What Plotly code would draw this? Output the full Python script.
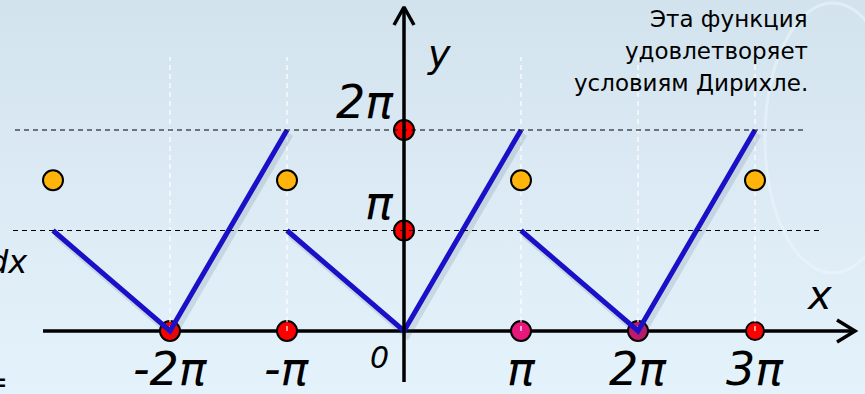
import plotly.graph_objects as go

# ---------------- data (x and y in units of pi) ----------------
seg_x = [[-3, -2, -1], [-1, 0, 1], [1, 2, 3]]
seg_y = [[1, 0, 2], [1, 0, 2], [1, 0, 2]]
mid_x = [-3, -1, 1, 3]
mid_y = [1.5, 1.5, 1.5, 1.5]
xdot_x = [-2, -1, 1, 2, 3]
xdot_c = ["#ff0000", "#ff0000", "#e8177b", "#c8186e", "#ff0000"]
ydot_y = [1, 2]
vline_x = [-2, -1, 1, 2, 3]
hline_y = [1, 2]
xtick_vals = [-2, -1, 1, 2, 3]
xtick_text = ["-2π", "-π", "π", "2π", "3π"]
ytick_vals = [1, 2]
ytick_text = ["π", "2π"]
note_lines = ["Эта функция", "удовлетворяет", "условиям Дирихле."]

# ---------------- geometry ----------------
W, H = 865, 394
PX_X, PX_Y = 117.0, 100.5      # pixels per pi
X0, Y0 = 404, 331              # pixel position of origin
x_lo, x_hi = -X0 / PX_X, (W - X0) / PX_X
y_lo, y_hi = -(H - Y0) / PX_Y, Y0 / PX_Y
def dx(p): return p / PX_X
def dy(p): return p / PX_Y

fig = go.Figure()

# background gradient
fig.add_trace(go.Scatter(
    x=[x_lo, x_hi, x_hi, x_lo, x_lo], y=[y_lo, y_lo, y_hi, y_hi, y_lo],
    fill="toself", mode="none", hoverinfo="skip", showlegend=False,
    fillgradient=dict(type="vertical",
                      colorscale=[[0, "#e4f2fb"], [1, "#d3e3ed"]])))

# x axis line
ax_x0, ax_x1 = dx(43 - X0), dx(855 - X0)
fig.add_trace(go.Scatter(x=[ax_x0, ax_x1], y=[0, 0], mode="lines",
                         line=dict(color="black", width=3.5), hoverinfo="skip", showlegend=False))
fig.add_trace(go.Scatter(x=[ax_x1 - dx(18), ax_x1, ax_x1 - dx(18)], y=[dy(11), 0, -dy(11)],
                         mode="lines", line=dict(color="black", width=3.5), hoverinfo="skip", showlegend=False))

# dots on x axis
fig.add_trace(go.Scatter(x=xdot_x, y=[0] * len(xdot_x), mode="markers",
                         marker=dict(size=[20, 20, 20, 20, 18], color=xdot_c, opacity=1,
                                     line=dict(color="black", width=2)),
                         hoverinfo="skip", showlegend=False))

# white dashed verticals
vx, vy = [], []
for v in vline_x:
    vx += [v, v, None]; vy += [0, dy(331 - 57), None]
fig.add_trace(go.Scatter(x=vx, y=vy, mode="lines",
                         line=dict(color="white", width=1.2, dash="5px,4px"),
                         hoverinfo="skip", showlegend=False))

# blue function (shadow + line)
bx, by, sx, sy = [], [], [], []
for xs, ys in zip(seg_x, seg_y):
    bx += xs + [None]; by += ys + [None]
    sx += [v + dx(3) for v in xs] + [None]; sy += [v - dy(4) for v in ys] + [None]
fig.add_trace(go.Scatter(x=sx, y=sy, mode="lines", line=dict(color="rgba(40,60,90,0.13)", width=7),
                         hoverinfo="skip", showlegend=False))
fig.add_trace(go.Scatter(x=bx, y=by, mode="lines", line=dict(color="#1a10c8", width=5),
                         hoverinfo="skip", showlegend=False))

# dots on y axis
fig.add_trace(go.Scatter(x=[0] * len(ydot_y), y=ydot_y, mode="markers",
                         marker=dict(size=20, color="#ff0000", opacity=1,
                                     line=dict(color="black", width=2)),
                         hoverinfo="skip", showlegend=False))

# y axis
ay0, ay1 = -dy(382 - Y0), dy(Y0 - 7)
fig.add_trace(go.Scatter(x=[0, 0], y=[ay0, ay1], mode="lines",
                         line=dict(color="black", width=3.5), hoverinfo="skip", showlegend=False))
fig.add_trace(go.Scatter(x=[-dx(10), 0, dx(10)], y=[ay1 - dy(18), ay1, ay1 - dy(18)], mode="lines",
                         line=dict(color="black", width=3.5), hoverinfo="skip", showlegend=False))

# black dashed horizontals
hx_ranges = {2: (dx(15 - X0), dx(805 - X0)), 1: (dx(13 - X0), dx(820 - X0))}
hx, hy = [], []
for h in hline_y:
    a, b = hx_ranges[h]
    hx += [a, b, None]; hy += [h, h, None]
fig.add_trace(go.Scatter(x=hx, y=hy, mode="lines",
                         line=dict(color="black", width=1, dash="5px,4px"),
                         hoverinfo="skip", showlegend=False))

# orange mid-points
fig.add_trace(go.Scatter(x=mid_x, y=mid_y, mode="markers",
                         marker=dict(size=20, color="#ffb40c", opacity=1,
                                     line=dict(color="black", width=2)),
                         hoverinfo="skip", showlegend=False))

# decorative ellipse
fig.add_shape(type="circle", xref="paper", yref="paper",
              x0=765 / W, x1=900 / W, y0=1 - 273 / H, y1=1 - 3 / H,
              line=dict(color="rgba(236,246,253,0.55)", width=3), layer="above")

mfont = dict(family="DejaVu Sans", size=46, color="black", style="italic")
anns = []
for v, t in zip(xtick_vals, xtick_text):
    anns.append(dict(x=v, y=0, text=t, showarrow=False, xanchor="center", yanchor="middle",
                     yshift=-38, font=mfont))
for v, t in zip(ytick_vals, ytick_text):
    anns.append(dict(x=0, y=v, text=t, showarrow=False, xanchor="right", yanchor="middle",
                     xshift=-8, yshift=28, font=mfont))
anns.append(dict(x=0, y=0, text="0", showarrow=False, xanchor="center", yanchor="middle",
                 xshift=-25, yshift=-26, font=dict(family="DejaVu Sans", size=30, style="italic", color="black")))
anns.append(dict(x=0, y=ay1, text="y", showarrow=False, xanchor="center", yanchor="middle",
                 xshift=35, yshift=-47, font=dict(family="DejaVu Sans", size=38, style="italic", color="black")))
anns.append(dict(x=ax_x1, y=0, text="x", showarrow=False, xanchor="center", yanchor="middle",
                 xshift=-36, yshift=36, font=dict(family="DejaVu Sans", size=40, style="italic", color="black")))
anns.append(dict(xref="paper", yref="paper", x=30 / W, y=1 - 262 / H, text="dx", showarrow=False,
                 xanchor="right", yanchor="middle",
                 font=dict(family="DejaVu Sans", size=32, style="italic", color="black")))
anns.append(dict(xref="paper", yref="paper", x=10 / W, y=1 - 381 / H, text="=", showarrow=False,
                 xanchor="right", yanchor="middle",
                 font=dict(family="DejaVu Sans", size=30, color="black")))
for i, line in enumerate(note_lines):
    anns.append(dict(xref="paper", yref="paper", x=810 / W, y=1 - (19 + 32 * i) / H, text=line,
                     showarrow=False, xanchor="right", yanchor="middle",
                     font=dict(family="DejaVu Sans", size=23, color="black")))

fig.update_layout(
    width=W, height=H, margin=dict(l=0, r=0, t=0, b=0),
    paper_bgcolor="#dcebf5", plot_bgcolor="#dcebf5",
    xaxis=dict(range=[x_lo, x_hi], visible=False, fixedrange=True),
    yaxis=dict(range=[y_lo, y_hi], visible=False, fixedrange=True),
    annotations=anns, showlegend=False,
)
fig.write_html("out.html", config={"displayModeBar": False})

with open("out.html", encoding="utf-8") as f:
    html = f.read()
html = html.replace("<head>", "<head><style>html,body{margin:0;padding:0;overflow:hidden;}</style>", 1)
with open("out.html", "w", encoding="utf-8") as f:
    f.write(html)
